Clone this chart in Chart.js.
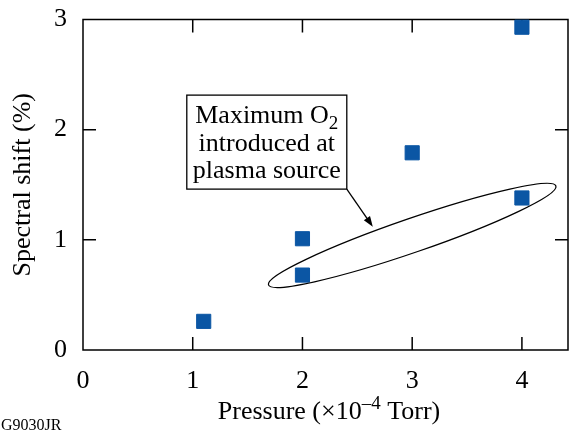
<!DOCTYPE html>
<html>
<head>
<meta charset="utf-8">
<script src="https://cdn.jsdelivr.net/npm/chart.js@4"></script>
<style>
  html, body { margin: 0; padding: 0; background: #fff; }
  #wrap { position: relative; width: 569px; height: 435px; }
</style>
</head>
<body>
<div id="wrap"><canvas id="shift_chart"></canvas></div>
<script>
// values
var pressure = [1.1, 2.0, 2.0, 3.0, 4.0, 4.0];
var spectralShift = [0.26, 1.01, 0.68, 1.79, 1.38, 2.93];
var xTickValues = [0, 1, 2, 3, 4];
var yTickValues = [0, 1, 2, 3];
var xRange = [0, 4.42];
var yRange = [0, 3];

var markColor = '#0b56a4';
var serif = '"Liberation Serif", "Times New Roman", serif';

var points = pressure.map(function (p, i) { return { x: p, y: spectralShift[i] }; });

// frame with inward ticks on all four sides, drawn under the markers
var frame = {
    id: 'frame',
    beforeDatasetsDraw: function (chart) {
        var ctx = chart.ctx, a = chart.chartArea;
        var xs = chart.scales.x, ys = chart.scales.y;
        var len = 13;
        ctx.save();
        ctx.strokeStyle = '#000';
        ctx.lineWidth = 1.5;
        ctx.beginPath();
        ctx.rect(a.left, a.top, a.right - a.left, a.bottom - a.top);
        xTickValues.forEach(function (v) {
            var px = xs.getPixelForValue(v);
            if (v === xRange[0]) return;
            ctx.moveTo(px, a.bottom); ctx.lineTo(px, a.bottom - len);
            ctx.moveTo(px, a.top); ctx.lineTo(px, a.top + len);
        });
        yTickValues.forEach(function (v) {
            var py = ys.getPixelForValue(v);
            if (v === yRange[0] || v === yRange[1]) return;
            ctx.moveTo(a.left, py); ctx.lineTo(a.left + len, py);
            ctx.moveTo(a.right, py); ctx.lineTo(a.right - len, py);
        });
        ctx.stroke();
        ctx.restore();
    },
    afterDraw: function (chart) {
        var ctx = chart.ctx;
        ctx.save();
        // x axis title with superscript
        ctx.fillStyle = '#000';
        ctx.textBaseline = 'alphabetic';
        var parts = [['Pressure (\u00d710', 26, 0], ['\u20134', 19, -10], [' Torr)', 26, 0]];
        var total = 0;
        parts.forEach(function (p) { ctx.font = p[1] + 'px ' + serif; total += ctx.measureText(p[0]).width; });
        var cx = 329 - total / 2;
        parts.forEach(function (p) {
            ctx.font = p[1] + 'px ' + serif;
            ctx.fillText(p[0], cx, 419 + p[2]);
            cx += ctx.measureText(p[0]).width;
        });

        ctx.font = '16px ' + serif;
        ctx.fillText('G9030JR', 1, 430);
        ctx.restore();
    }
};

// callout box, arrow and ellipse, positioned in data units
var callout = {
    id: 'callout',
    afterDatasetsDraw: function (chart) {
        var ctx = chart.ctx;
        var xs = chart.scales.x, ys = chart.scales.y;
        ctx.save();
        ctx.strokeStyle = '#000';
        ctx.lineWidth = 1.3;

        // ellipse around the two O2 points
        var ex = xs.getPixelForValue(3.0), ey = ys.getPixelForValue(1.04);
        ctx.beginPath();
        ctx.ellipse(ex, ey, 152, 17, -19 * Math.PI / 180, 0, Math.PI * 2);
        ctx.stroke();

        // box
        var bx = xs.getPixelForValue(1.675), by = ys.getPixelForValue(1.887);
        var bw = 160, bh = 94;
        ctx.fillStyle = '#fff';
        ctx.fillRect(bx - bw / 2, by - bh / 2, bw, bh);
        ctx.strokeRect(bx - bw / 2, by - bh / 2, bw, bh);

        ctx.fillStyle = '#000';
        ctx.textBaseline = 'alphabetic';
        ctx.font = '26px ' + serif;
        var w1 = ctx.measureText('Maximum O').width;
        ctx.font = '19px ' + serif;
        var w2 = ctx.measureText('2').width;
        var lx = bx - (w1 + w2) / 2;
        ctx.font = '26px ' + serif;
        ctx.fillText('Maximum O', lx, by - 19);
        ctx.font = '19px ' + serif;
        ctx.fillText('2', lx + w1, by - 13);
        ctx.font = '26px ' + serif;
        ctx.textAlign = 'center';
        ctx.fillText('introduced at', bx, by + 9);
        ctx.fillText('plasma source', bx, by + 36);

        // arrow from box corner to ellipse
        var x0 = bx + bw / 2, y0 = by + bh / 2;
        var x1 = xs.getPixelForValue(2.641), y1 = ys.getPixelForValue(1.119);
        var ang = Math.atan2(y1 - y0, x1 - x0);
        ctx.beginPath();
        ctx.moveTo(x0, y0);
        ctx.lineTo(x1 - 8 * Math.cos(ang), y1 - 8 * Math.sin(ang));
        ctx.stroke();
        ctx.beginPath();
        ctx.moveTo(x1, y1);
        ctx.lineTo(x1 - 11 * Math.cos(ang - 0.35), y1 - 11 * Math.sin(ang - 0.35));
        ctx.lineTo(x1 - 11 * Math.cos(ang + 0.35), y1 - 11 * Math.sin(ang + 0.35));
        ctx.closePath();
        ctx.fill();
        ctx.restore();
    }
};

var shiftChart = new Chart(document.getElementById('shift_chart'), {
    type: 'scatter',
    data: {
        datasets: [{
            label: 'Spectral shift',
            data: points,
            pointStyle: 'rect',
            pointRadius: 10,
            pointBorderWidth: 1,
            backgroundColor: markColor,
            borderColor: markColor,
            clip: false
        }]
    },
    options: {
        responsive: true,
        maintainAspectRatio: false,
        animation: false,
        layout: { autoPadding: false, padding: { top: 19.5, right: 1, left: 0, bottom: 0 } },
        scales: {
            x: {
                type: 'linear',
                min: xRange[0],
                max: xRange[1],
                afterBuildTicks: function (s) { s.ticks = xTickValues.map(function (v) { return { value: v }; }); },
                afterFit: function (s) { s.height = 85; s.paddingLeft = 0; s.paddingRight = 0; },
                grid: { display: false, drawTicks: false },
                border: { display: false },
                ticks: {
                    color: '#000',
                    padding: 16,
                    font: { family: serif, size: 26 }
                }
            },
            y: {
                min: yRange[0],
                max: yRange[1],
                afterBuildTicks: function (s) { s.ticks = yTickValues.map(function (v) { return { value: v }; }); },
                afterFit: function (s) { s.width = 83; s.paddingTop = 0; s.paddingBottom = 0; },
                grid: { display: false, drawTicks: false },
                border: { display: false },
                ticks: {
                    color: '#000',
                    padding: 16,
                    font: { family: serif, size: 26 }
                },
                title: {
                    display: true,
                    text: 'Spectral shift (%)',
                    color: '#000',
                    padding: { top: 8, bottom: 0 },
                    font: { family: serif, size: 26 }
                }
            }
        },
        plugins: {
            legend: { display: false },
            tooltip: { enabled: false }
        }
    },
    plugins: [frame, callout]
});
</script>
</body>
</html>
